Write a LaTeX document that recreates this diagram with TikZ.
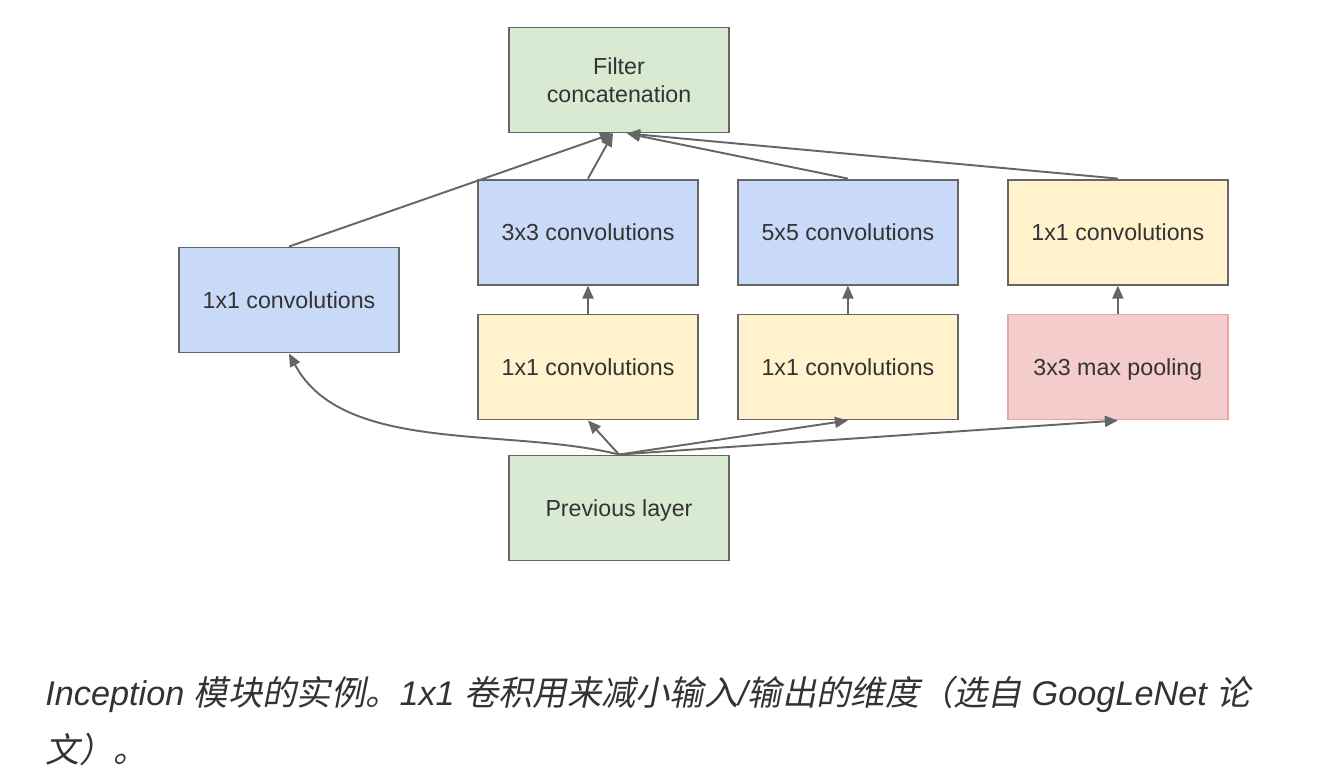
\documentclass[tikz,border=0pt]{standalone}
\usepackage{fontspec}
\setmainfont{Liberation Sans}
\newfontfamily\cjk[FakeSlant=0.2]{Noto Sans CJK SC}
\usepackage{tikz}
\usetikzlibrary{arrows.meta,
  positioning
}

\definecolor{linie}{HTML}{666666}
\definecolor{schrift}{HTML}{333333}
\definecolor{blaufill}{HTML}{C9DAF8}
\definecolor{gelbfill}{HTML}{FFF2CC}
\definecolor{gruenfill}{HTML}{D9EAD3}
\definecolor{rotfill}{HTML}{F4CCCC}
\definecolor{rotrand}{HTML}{E8A3A8}

\newcommand{\zh}[1]{{\cjk #1}}

\begin{document}
\begin{tikzpicture}[every node/.style={minimum width=4.4cm, minimum height=2.1cm, align=center, text=schrift, font=\fontsize{13.2}{16}\selectfont}]

        \useasboundingbox (0,0) rectangle (26.6,-15.56);

        % Farben
        \tikzstyle{box}=[draw=linie, line width=1.1pt, rectangle, text depth=0pt]
        \tikzstyle{blau}=[box, fill=blaufill]
        \tikzstyle{gelb}=[box, fill=gelbfill]
        \tikzstyle{gruen}=[box, fill=gruenfill]
        \tikzstyle{rot}=[box, draw=rotrand, fill=rotfill]
        \tikzstyle{pfeil}=[draw=linie, line width=1.1pt, -{Triangle[length=2.6mm, width=2.2mm]}]

        % Eingang
        \node[gruen] (prev) at (12.38,-10.16) {Previous layer};

        % Reduktion
        \node[gelb] (red3) at (11.76,-7.34) {1x1 convolutions};
        \node[gelb, right=0.76cm of red3] (red5) {1x1 convolutions};
        \node[rot, right=0.96cm of red5] (pool) {3x3 max pooling};

        % Faltungen
        \node[blau] (conv1) at (5.78,-6.0) {1x1 convolutions};
        \node[blau, above=0.56cm of red3] (conv3) {3x3 convolutions};
        \node[blau, above=0.56cm of red5] (conv5) {5x5 convolutions};
        \node[gelb, above=0.56cm of pool] (proj) {1x1 convolutions};

        % Ausgang
        \node[gruen] (concat) at (12.38,-1.6) {Filter\\concatenation};

        % Previous layer -> Zweige
        \draw[pfeil] (prev.north) to[out=166, in=-62, looseness=0.85] (conv1.south);
        \draw[pfeil] (prev.north) -- (red3.south);
        \draw[pfeil] (prev.north) -- (red5.south);
        \draw[pfeil] (prev.north) -- (pool.south);

        % innerhalb der Zweige
        \draw[pfeil] (red3) -- (conv3);
        \draw[pfeil] (red5) -- (conv5);
        \draw[pfeil] (pool) -- (proj);

        % Zweige -> Filter concatenation
        \draw[pfeil] (conv1.north) -- ([xshift=-0.12cm]concat.south);
        \draw[pfeil] (conv3.north) -- ([xshift=-0.12cm]concat.south);
        \draw[pfeil] (conv5.north) -- ([xshift=0.16cm]concat.south);
        \draw[pfeil] (proj.north) -- ([xshift=0.16cm]concat.south);

        % Bildunterschrift
        \node[anchor=base west, minimum width=0pt, minimum height=0pt, inner sep=0pt, align=left, font=\fontsize{19.5}{32.4}\selectfont\itshape] (caption) at (0.9,-15.24)
          {Inception \zh{模块的实例。}1x1 \zh{卷积用来减小输入}/\zh{输出的维度（选自} GoogLeNet \zh{论}\\\zh{文）。}};
        \end{tikzpicture}
\end{document}
